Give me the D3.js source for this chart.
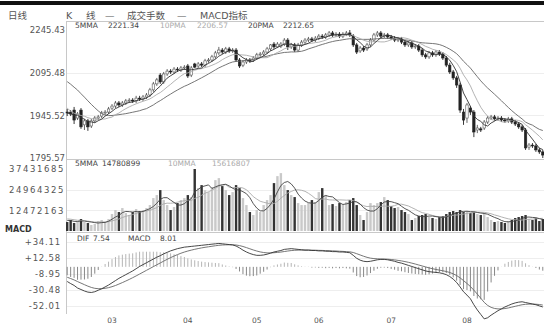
<!DOCTYPE html>
<html><head><meta charset="utf-8">
<script src="https://cdn.jsdelivr.net/npm/d3@7"></script>
<style>body{margin:0;background:#fff}svg{display:block}text{font-family:"DejaVu Sans","Noto Sans CJK SC",sans-serif}</style>
</head><body><svg id="c" width="544" height="329"></svg>
<script>
// ---- data ----
const months = ["03","04","05","06","07","08"];
const monthStartIdx = [13,35,55,73,94,116];
const priceTicks = [2245.43, 2095.48, 1945.52, 1795.57];
const priceTickLabels = ["2245.43","2095.48","1945.52","1795.57"];
const volTicks = [37431685, 24964325, 12472163];
const macdTicks = [34.11, 12.58, -8.95, -30.48, -52.01];
const macdTickLabels = ["+34.11","+12.58","-8.95","-30.48","-52.01"];

const priorClose = [2130,2140,2150,2160,2170,2165,2175,2170,2160,2150,2060,2000,1975,1960,1950,1955,1960,1950,1945];
const open = [1957,1957,1964,1936,1964,1912,1926,1908,1926,1936,
 1943,1954,1957,1971,1978,1989,1982,1989,1996,1999,
 1996,2006,2003,2010,2017,2035,2056,2087,2063,2091,
 2101,2098,2108,2105,2112,2119,2087,2126,2119,2126,
 2122,2137,2140,2151,2165,2175,2168,2179,2172,2175,
 2140,2122,2133,2140,2140,2147,2158,2161,2168,2179,
 2196,2186,2189,2196,2210,2186,2193,2175,2193,2203,
 2210,2214,2210,2217,2224,2221,2228,2235,2228,2231,
 2224,2231,2235,2224,2193,2172,2182,2179,2193,2210,
 2228,2235,2224,2228,2221,2217,2210,2214,2203,2193,
 2200,2186,2189,2175,2158,2151,2165,2158,2168,2161,
 2147,2122,2098,2077,2052,1957,1936,1971,1957,1894,
 1898,1901,1922,1936,1940,1933,1936,1929,1926,1933,
 1922,1915,1905,1894,1834,1841,1838,1824,1817];
const close = [1954,1950,1929,1950,1905,1926,1905,1926,1936,1940,
 1954,1957,1968,1978,1989,1982,1989,1996,1999,1996,
 2006,2003,2010,2017,2035,2056,2070,2063,2091,2101,
 2098,2108,2105,2112,2115,2084,2112,2115,2126,2122,
 2137,2140,2151,2165,2175,2168,2179,2172,2175,2140,
 2119,2133,2140,2137,2147,2158,2161,2168,2179,2193,
 2186,2196,2196,2210,2186,2193,2175,2193,2203,2210,
 2214,2210,2217,2224,2221,2228,2235,2228,2231,2224,
 2231,2235,2228,2193,2168,2182,2175,2193,2210,2228,
 2235,2224,2228,2221,2217,2210,2214,2203,2193,2200,
 2186,2189,2175,2158,2151,2165,2158,2168,2161,2147,
 2122,2098,2077,2052,1964,1929,1982,1957,1887,1901,
 1894,1922,1936,1940,1933,1936,1929,1926,1933,1922,
 1915,1905,1894,1831,1841,1838,1824,1817,1806];
const high = [1968,1964,1975,1957,1971,1933,1933,1933,1943,1947,
 1961,1964,1975,1985,1996,1996,1996,2003,2006,2006,
 2014,2014,2017,2024,2042,2063,2077,2094,2098,2108,
 2108,2115,2115,2119,2122,2126,2119,2130,2133,2133,
 2144,2147,2158,2172,2186,2182,2186,2186,2182,2182,
 2147,2140,2147,2147,2154,2165,2168,2175,2186,2196,
 2203,2203,2203,2217,2217,2200,2200,2200,2210,2217,
 2221,2221,2224,2231,2231,2235,2242,2242,2238,2238,
 2238,2242,2245.43,2231,2200,2189,2189,2200,2217,2235,
 2242,2242,2235,2235,2228,2224,2221,2221,2210,2207,
 2207,2196,2196,2182,2165,2172,2172,2175,2175,2168,
 2154,2130,2105,2084,2059,1968,1989,1978,1964,1912,
 1905,1929,1943,1947,1947,1943,1943,1936,1940,1940,
 1929,1922,1912,1901,1848,1848,1845,1831,1824];
const low = [1943,1943,1915,1929,1898,1894,1891,1901,1919,1929,
 1936,1947,1950,1964,1971,1975,1975,1982,1989,1989,
 1989,1996,1996,2003,2010,2028,2049,2056,2056,2084,
 2091,2091,2098,2098,2105,2077,2080,2112,2112,2115,
 2115,2130,2133,2144,2158,2161,2161,2165,2165,2133,
 2112,2115,2126,2130,2133,2140,2151,2154,2161,2172,
 2179,2182,2182,2189,2175,2179,2168,2168,2186,2196,
 2203,2203,2203,2210,2214,2214,2221,2221,2221,2217,
 2217,2224,2221,2186,2161,2165,2168,2172,2186,2203,
 2221,2217,2217,2214,2210,2203,2203,2196,2186,2186,
 2179,2179,2168,2151,2144,2144,2151,2151,2154,2140,
 2115,2091,2070,2042,1954,1912,1919,1947,1869,1883,
 1887,1894,1915,1929,1926,1926,1922,1919,1919,1915,
 1908,1898,1887,1824,1824,1831,1817,1810,1795.57];

const priorVolume = [8500000,7900000,9200000,8100000,7400000,6800000,7600000,6200000,5900000];
const volume = [5420000,6630000,4820000,6020000,7230000,5420000,4820000,3610000,4220000,6020000,
 6630000,5420000,7230000,10240000,12650000,11450000,13860000,10840000,9640000,11450000,
 13250000,12050000,12650000,13860000,15660000,19880000,21690000,24700000,18670000,15660000,
 12650000,14460000,16870000,18670000,19880000,21690000,20480000,37431685,25900000,27710000,
 24700000,23490000,26510000,30720000,31930000,27110000,24700000,21690000,23490000,27710000,
 25900000,19880000,15660000,11450000,9640000,12650000,11450000,15660000,18670000,21690000,
 28920000,33130000,34940000,27710000,24700000,21690000,20480000,16870000,15660000,15660000,
 16870000,18670000,17470000,23490000,25900000,21690000,15660000,16260000,15060000,16870000,
 16260000,17470000,18670000,19880000,15660000,9640000,6630000,11450000,16870000,15660000,
 16870000,17470000,20480000,18670000,15060000,13860000,14460000,12650000,11450000,10240000,
 6630000,7830000,9040000,9640000,10240000,8430000,7830000,7230000,8430000,9040000,
 10240000,11450000,12050000,11450000,12650000,11450000,12050000,10840000,11450000,10240000,
 9640000,10840000,8430000,6630000,5420000,6020000,5420000,4820000,6020000,6630000,
 7830000,8430000,9040000,9640000,7230000,6630000,7830000,6020000,7230000];

const dif = [-19.7,-22.5,-25.0,-28.5,-30.5,-32.5,-34.0,-34.5,-33.5,-31.5,
 -29.5,-27.0,-24.5,-21.5,-18.5,-15.5,-13.0,-10.5,-8.0,-5.5,
 -2.5,0.5,3.0,5.5,8.0,10.5,13.0,15.0,17.5,19.5,
 21.5,23.0,24.5,25.5,26.5,27.0,27.5,28.0,28.5,29.0,
 29.5,30.0,30.5,31.0,31.5,31.0,30.5,30.0,29.5,28.0,
 25.5,22.5,20.0,18.0,16.5,15.5,15.5,16.0,17.0,18.5,
 20.0,21.0,22.0,23.5,24.0,24.5,24.0,23.5,23.0,22.5,
 22.5,22.0,22.0,21.5,21.5,21.0,21.0,20.5,20.5,20.0,
 20.0,19.5,19.0,15.5,11.5,9.0,7.5,7.0,7.5,8.5,
 9.5,10.0,10.0,9.5,8.5,7.5,6.0,5.0,3.5,2.0,
 0.5,-1.0,-2.5,-4.0,-5.5,-6.5,-7.0,-7.5,-8.0,-9.0,
 -10.5,-13.0,-16.5,-21.0,-27.0,-33.5,-38.0,-43.0,-51.0,-58.0,
 -64.0,-70.0,-68.5,-65.0,-62.0,-59.0,-56.5,-54.0,-52.0,-50.0,
 -48.5,-47.5,-47.0,-48.0,-49.0,-50.0,-51.0,-52.5,-54.0];
const dea = [-14.0,-15.7,-17.6,-19.8,-21.9,-24.0,-26.0,-27.7,-28.9,-29.4,
 -29.4,-28.9,-28.0,-26.7,-25.1,-23.2,-21.2,-19.1,-16.9,-14.6,
 -12.2,-9.7,-7.2,-4.7,-2.2,0.3,2.8,5.2,7.7,10.1,
 12.4,14.5,16.5,18.3,19.9,21.3,22.5,23.6,24.6,25.5,
 26.3,27.0,27.7,28.4,29.0,29.4,29.6,29.7,29.7,29.4,
 28.6,27.4,25.9,24.3,22.7,21.3,20.1,19.3,18.8,18.7,
 19.0,19.4,19.9,20.6,21.3,21.9,22.3,22.5,22.6,22.6,
 22.6,22.5,22.4,22.2,22.1,21.9,21.7,21.5,21.3,21.0,
 20.8,20.5,20.2,19.3,17.7,16.0,14.3,12.8,11.7,11.1,
 10.8,10.6,10.5,10.3,9.9,9.4,8.7,8.0,7.1,6.1,
 5.0,3.8,2.5,1.2,-0.1,-1.4,-2.5,-3.5,-4.4,-5.3,
 -6.3,-7.6,-9.4,-11.7,-14.8,-18.5,-22.4,-26.5,-31.4,-36.7,
 -42.2,-47.8,-51.9,-54.5,-56.0,-56.6,-56.6,-56.1,-55.3,-54.2,
 -53.1,-52.0,-51.0,-50.4,-50.1,-50.1,-50.3,-50.7,-51.4];

const headerParts = [["日线",8],["K",66],["线",86],["—",105],["成交手数",127],["—",177],["MACD指标",200]];
const priceLegend = [["5MMA",75,"#444"],["2221.34",108,"#444"],["10PMA",160,"#aaa"],["2206.57",197,"#aaa"],["20PMA",248,"#444"],["2212.65",283,"#444"]];
const volLegend = [["5MMA",75,"#444"],["14780899",102,"#444"],["10MMA",168,"#aaa"],["15616807",212,"#aaa"]];
const macdLegend = [["DIF",77],["7.54",93],["MACD",128],["8.01",160]];

// ---- drawing ----
const svg = d3.select("#c");
const N = close.length;
const x = d3.scaleBand().domain(d3.range(N)).range([66, 544]).paddingInner(0.3);
const xc = i => x(i) + x.bandwidth() / 2;
const yP = d3.scaleLinear().domain([priceTicks[3], priceTicks[0]]).range([158, 30]);
const yV = d3.scaleLinear().domain([0, volTicks[0]]).range([231, 169]);
const yM = d3.scaleLinear().domain([macdTicks[4], macdTicks[0]]).range([305.5, 241.5]);

function movingAvg(vals, prior, n) {
  const all = prior.concat(vals), off = prior.length;
  return vals.map((v, i) => d3.mean(all.slice(Math.max(0, off + i - n + 1), off + i + 1)));
}

// top bar
svg.append("rect").attr("x", 0).attr("y", 1).attr("width", 544).attr("height", 4).attr("fill", "#111");

// gridlines
const grid = svg.append("g").attr("stroke", "#eee").attr("stroke-width", 1);
[priceTicks[1], priceTicks[2]].forEach(v => grid.append("line").attr("x1", 66).attr("x2", 544).attr("y1", Math.round(yP(v)) + 0.5).attr("y2", Math.round(yP(v)) + 0.5));
[volTicks[1], volTicks[2]].forEach(v => grid.append("line").attr("x1", 66).attr("x2", 544).attr("y1", Math.round(yV(v)) + 0.5).attr("y2", Math.round(yV(v)) + 0.5));
macdTicks.forEach(v => grid.append("line").attr("x1", 66).attr("x2", 544).attr("y1", Math.round(yM(v)) + 0.5).attr("y2", Math.round(yM(v)) + 0.5));

// frame lines
const fr = svg.append("g").attr("stroke", "#c8c8c8");
fr.append("line").attr("x1", 66.5).attr("x2", 66.5).attr("y1", 21).attr("y2", 314);
[21.5, 159.5, 232.5].forEach(y => fr.append("line").attr("x1", 66).attr("x2", 544).attr("y1", y).attr("y2", y));

// candles
const cg = svg.append("g");
d3.range(N).forEach(i => {
  const up = close[i] >= open[i];
  cg.append("line").attr("x1", xc(i)).attr("x2", xc(i)).attr("y1", yP(high[i])).attr("y2", yP(low[i]))
    .attr("stroke", up ? "#555" : "#222").attr("stroke-width", 0.9);
  const y0 = yP(Math.max(open[i], close[i])), y1 = yP(Math.min(open[i], close[i]));
  cg.append("rect").attr("x", x(i)).attr("y", y0).attr("width", x.bandwidth()).attr("height", Math.max(0.9, y1 - y0))
    .attr("fill", up ? "#fff" : "#222").attr("stroke", up ? "#555" : "#222").attr("stroke-width", 0.6);
});

// price MAs
const ma5 = movingAvg(close, priorClose, 5), ma10 = movingAvg(close, priorClose, 10), ma20 = movingAvg(close, priorClose, 20);
const lineP = d3.line().x((d, i) => xc(i)).y(d => yP(d));
[[ma20, "#666"], [ma10, "#aaa"], [ma5, "#333"]].forEach(([s, c]) =>
  svg.append("path").attr("d", lineP(s)).attr("fill", "none").attr("stroke", c).attr("stroke-width", 0.9));

// volume bars
const vg = svg.append("g");
d3.range(N).forEach(i => {
  const up = close[i] >= open[i];
  vg.append("rect").attr("x", x(i)).attr("y", yV(volume[i])).attr("width", x.bandwidth()).attr("height", yV(0) - yV(volume[i]))
    .attr("fill", up ? "#c9c9c9" : "#333");
});
const vma5 = movingAvg(volume, priorVolume, 5), vma10 = movingAvg(volume, priorVolume, 10);
const lineV = d3.line().x((d, i) => xc(i)).y(d => yV(d));
[[vma10, "#aaa"], [vma5, "#444"]].forEach(([s, c]) =>
  svg.append("path").attr("d", lineV(s)).attr("fill", "none").attr("stroke", c).attr("stroke-width", 0.9));

// MACD histogram and lines
const hg = svg.append("g");
d3.range(N).forEach(i => {
  const h = 2 * (dif[i] - dea[i]);
  hg.append("line").attr("x1", xc(i)).attr("x2", xc(i)).attr("y1", yM(0)).attr("y2", yM(h))
    .attr("stroke", h >= 0 ? "#b5b5b5" : "#888").attr("stroke-width", 1);
});
const lineM = d3.line().x((d, i) => xc(i)).y(d => yM(d));
svg.append("path").attr("d", lineM(dea)).attr("fill", "none").attr("stroke", "#666").attr("stroke-width", 0.9);
svg.append("path").attr("d", lineM(dif)).attr("fill", "none").attr("stroke", "#333").attr("stroke-width", 0.9);

// axes (labels)
function styleAxis(g, size, ls) {
  g.select(".domain").remove();
  g.selectAll("line").remove();
  g.selectAll("text").attr("fill", "#555").style("font-size", size + "px").style("letter-spacing", ls + "px");
}
svg.append("g").attr("transform", "translate(66,0)")
  .call(d3.axisLeft(yP).tickValues(priceTicks).tickFormat((d, i) => priceTickLabels[i]).tickSize(0).tickPadding(1))
  .call(g => styleAxis(g, 8.5, 0));
svg.append("g").attr("transform", "translate(66,0)")
  .call(d3.axisLeft(yV).tickValues(volTicks).tickFormat((d, i) => String(volTicks[i])).tickSize(0).tickPadding(1))
  .call(g => styleAxis(g, 8.5, 1.6));
svg.append("g").attr("transform", "translate(62,0)")
  .call(d3.axisLeft(yM).tickValues(macdTicks).tickFormat((d, i) => macdTickLabels[i]).tickSize(0).tickPadding(1))
  .call(g => styleAxis(g, 8.5, 0.8));
svg.append("g").attr("transform", "translate(0,315)")
  .call(d3.axisBottom(x).tickValues(monthStartIdx).tickFormat((d, i) => months[i]).tickSize(0).tickPadding(3))
  .call(g => styleAxis(g, 7.5, 0));

// header & legends
headerParts.forEach(([t, px]) => svg.append("text").attr("x", px).attr("y", 19).attr("fill", "#555").style("font-size", "9.5px").text(t));
priceLegend.forEach(([t, px, c]) => svg.append("text").attr("x", px).attr("y", 28).attr("fill", c).style("font-size", "7.5px").text(t));
volLegend.forEach(([t, px, c]) => svg.append("text").attr("x", px).attr("y", 166).attr("fill", c).style("font-size", "7.5px").text(t));
macdLegend.forEach(([t, px]) => svg.append("text").attr("x", px).attr("y", 241).attr("fill", "#444").style("font-size", "7.5px").text(t));
svg.append("text").attr("x", 5).attr("y", 232).attr("fill", "#333").style("font-size", "8px").style("font-weight", "bold").text("MACD");
</script>
</body></html>
